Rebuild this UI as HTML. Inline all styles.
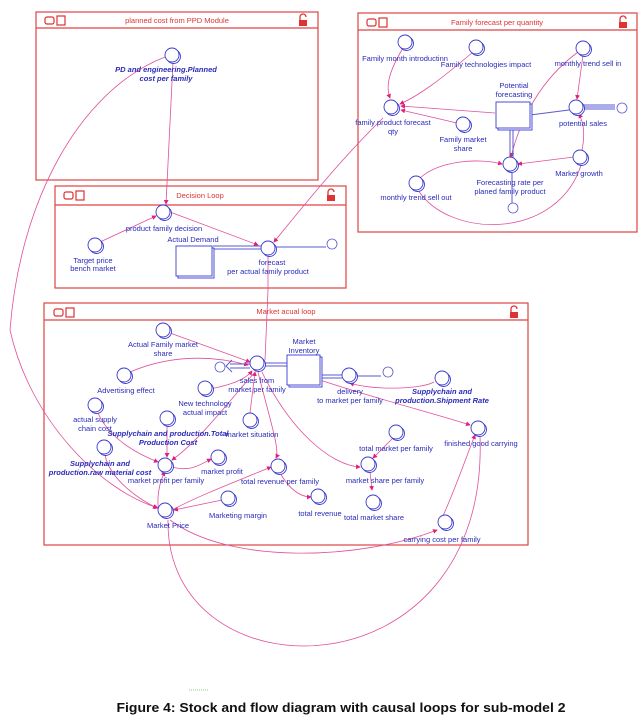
<!DOCTYPE html>
<html><head><meta charset="utf-8"><style>
html,body{margin:0;padding:0;background:#fff;}
svg{display:block;font-family:"Liberation Sans",Arial,sans-serif;}
.t{fill:#2a2ab8;font-size:7.5px;text-anchor:middle;}
.b{font-weight:bold;font-style:italic;}
.bx{fill:none;stroke:#dd4444;stroke-width:1.2;}
.h{fill:#dd3333;font-size:7.5px;text-anchor:middle;}
.n{fill:#fff;stroke:#3a3ad0;stroke-width:0.9;}
.l{fill:none;stroke:#e0509a;stroke-width:0.8;}
.f{fill:none;stroke:#5a5ad0;stroke-width:1;}
</style></head><body>
<svg width="642" height="724" viewBox="0 0 642 724" xmlns="http://www.w3.org/2000/svg">
<defs>
<marker id="a" markerWidth="6" markerHeight="6" refX="5" refY="3" orient="auto"><path d="M0,0L6,3L0,6z" fill="#e0207a"/></marker>
<g id="ic"><rect x="0" y="0" width="9" height="7" rx="2" fill="none" stroke="#d33" stroke-width="1.2"/><rect x="12" y="-1" width="8" height="9" fill="none" stroke="#d33" stroke-width="1.2"/></g>
<g id="lk"><path d="M-3,0 v-3 a3,3 0 0 1 6,0" fill="none" stroke="#d33" stroke-width="1.3"/><rect x="-4" y="0" width="8" height="6" fill="#d33"/></g>
<g id="nd"><circle cx="1.5" cy="1.5" r="7" class="n"/><circle cx="0" cy="0" r="7" class="n"/></g>
</defs>

<!-- boxes -->
<rect x="36" y="12" width="282" height="168" class="bx"/><line x1="36" y1="28" x2="318" y2="28" class="bx"/>
<use href="#ic" x="45" y="17"/><text x="177" y="23" class="h">planned cost from PPD Module</text><use href="#lk" x="303" y="20"/>

<rect x="55" y="186" width="291" height="102" class="bx"/><line x1="55" y1="205" x2="346" y2="205" class="bx"/>
<use href="#ic" x="64" y="192"/><text x="200" y="198" class="h">Decision Loop</text><use href="#lk" x="331" y="195"/>

<rect x="358" y="13" width="279" height="219" class="bx"/><line x1="358" y1="30" x2="637" y2="30" class="bx"/>
<use href="#ic" x="367" y="19"/><text x="497" y="25" class="h">Family forecast per quantity</text><use href="#lk" x="623" y="22"/>

<rect x="44" y="303" width="484" height="242" class="bx"/><line x1="44" y1="320" x2="528" y2="320" class="bx"/>
<use href="#ic" x="54" y="309"/><text x="286" y="314" class="h">Market acual loop</text><use href="#lk" x="514" y="312"/>

<!-- links -->
<path d="M165,57 C80,90 20,200 10,330 C30,420 100,490 158,508" class="l" marker-end="url(#a)"/>
<path d="M173,62 L166,204" class="l" marker-end="url(#a)"/>
<path d="M170,212 L258,245" class="l" marker-end="url(#a)"/>
<path d="M100,242 L156,216" class="l" marker-end="url(#a)"/>
<path d="M268,255 L268,290 L265,360" class="l"/>
<path d="M383,118 C340,160 300,210 274,242" class="l" marker-end="url(#a)"/>
<path d="M403,48 C390,70 385,85 390,98" class="l" marker-end="url(#a)"/>
<path d="M473,52 C440,80 420,95 400,104" class="l" marker-end="url(#a)"/>
<path d="M495,113 L401,106" class="l" marker-end="url(#a)"/>
<path d="M457,123 L401,110" class="l" marker-end="url(#a)"/>
<path d="M578,52 C540,80 520,120 511,157" class="l" marker-end="url(#a)"/>
<path d="M583,55 L577,99" class="l" marker-end="url(#a)"/>
<path d="M574,157 L518,164" class="l" marker-end="url(#a)"/>
<path d="M582,150 C586,130 582,120 579,114" class="l" marker-end="url(#a)"/>
<path d="M420,178 C440,160 480,158 502,164" class="l" marker-end="url(#a)"/>
<path d="M418,190 C450,240 560,240 582,162" class="l"/>
<path d="M530,115 L569,110" class="f"/><path d="M583,107 L615,107" class="f"/>
<path d="M510,128 L510,157 M513,128 L513,157" class="f"/>
<path d="M512,171 L512,203" class="f"/>
<!-- decision flows -->
<path d="M213,246 L261,246 M213,249 L261,249" class="f"/><path d="M275,247 L326,247" class="f"/>
<!-- market links -->
<path d="M170,333 L250,362" class="l" marker-end="url(#a)"/>
<path d="M130,372 C170,355 210,355 248,365" class="l" marker-end="url(#a)"/>
<path d="M210,389 C230,385 245,380 252,371" class="l" marker-end="url(#a)"/>
<path d="M250,413 L255,372" class="l" marker-end="url(#a)"/>
<path d="M258,372 C270,420 280,450 276,458" class="l" marker-end="url(#a)"/>
<path d="M262,372 C290,430 330,465 360,467" class="l" marker-end="url(#a)"/>
<path d="M255,372 C230,400 200,440 172,460" class="l" marker-end="url(#a)"/>
<path d="M98,413 C110,440 140,455 158,462" class="l" marker-end="url(#a)"/>
<path d="M167,425 L167,457" class="l" marker-end="url(#a)"/>
<path d="M105,455 C110,480 140,500 157,508" class="l" marker-end="url(#a)"/>
<path d="M172,467 C190,472 200,465 211,459" class="l" marker-end="url(#a)"/>
<path d="M172,510 C200,495 240,480 271,467" class="l" marker-end="url(#a)"/>
<path d="M222,500 L174,510" class="l" marker-end="url(#a)"/>
<path d="M160,515 C155,500 160,480 165,472" class="l" marker-end="url(#a)"/>
<path d="M280,473 C290,490 300,497 311,497" class="l" marker-end="url(#a)"/>
<path d="M393,438 L373,458" class="l" marker-end="url(#a)"/>
<path d="M370,472 L372,490" class="l" marker-end="url(#a)"/>
<path d="M434,382 C420,390 370,390 350,383" class="l" marker-end="url(#a)"/>
<path d="M320,380 C380,400 440,415 470,425" class="l" marker-end="url(#a)"/>
<path d="M442,518 C455,490 465,460 475,435" class="l" marker-end="url(#a)"/>
<path d="M170,520 C230,565 360,560 437,530" class="l" marker-end="url(#a)"/>
<path d="M168,520 C165,700 490,700 480,436" class="l"/>
<path d="M40,420 C60,460 90,490 30,470" class="l" style="display:none"/>
<path d="M287,363 L264,363 M287,366 L264,366" class="f"/>
<path d="M250,364 L230,364 M250,368 L230,368" class="f"/><path d="M232,360 L226,366 L232,372" class="f"/>
<path d="M320,375 L342,375 M320,378 L342,378" class="f"/><path d="M356,376 L381,376" class="f"/>
<path d="M583,105 L615,105 M583,109 L615,109" class="f"/>

<!-- stocks -->
<rect x="178" y="248" width="36" height="30" class="n"/><rect x="176" y="246" width="36" height="30" class="n"/>
<rect x="498" y="104" width="34" height="26" class="n"/><rect x="496" y="102" width="34" height="26" class="n"/>
<rect x="289" y="357" width="33" height="30" class="n"/><rect x="287" y="355" width="33" height="30" class="n"/>

<!-- clouds -->
<g fill="#fff" stroke="#5a5ad0" stroke-width="0.8">
<circle cx="332" cy="244" r="5"/><circle cx="622" cy="108" r="5"/><circle cx="513" cy="208" r="5"/>
<circle cx="220" cy="367" r="5"/><circle cx="388" cy="372" r="5"/></g>

<!-- nodes -->
<use href="#nd" x="172" y="55"/><use href="#nd" x="163" y="212"/><use href="#nd" x="95" y="245"/>
<use href="#nd" x="268" y="248"/><use href="#nd" x="405" y="42"/><use href="#nd" x="476" y="47"/>
<use href="#nd" x="391" y="107"/><use href="#nd" x="463" y="124"/><use href="#nd" x="576" y="107"/>
<use href="#nd" x="583" y="48"/><use href="#nd" x="580" y="157"/><use href="#nd" x="510" y="164"/>
<use href="#nd" x="416" y="183"/><use href="#nd" x="163" y="330"/><use href="#nd" x="257" y="363"/>
<use href="#nd" x="349" y="375"/><use href="#nd" x="442" y="378"/><use href="#nd" x="124" y="375"/>
<use href="#nd" x="205" y="388"/><use href="#nd" x="250" y="420"/><use href="#nd" x="95" y="405"/>
<use href="#nd" x="167" y="418"/><use href="#nd" x="104" y="447"/><use href="#nd" x="165" y="465"/>
<use href="#nd" x="218" y="457"/><use href="#nd" x="278" y="466"/><use href="#nd" x="318" y="496"/>
<use href="#nd" x="165" y="510"/><use href="#nd" x="228" y="498"/><use href="#nd" x="396" y="432"/>
<use href="#nd" x="368" y="464"/><use href="#nd" x="373" y="502"/><use href="#nd" x="478" y="428"/>
<use href="#nd" x="445" y="522"/>

<!-- labels -->
<text class="t b" x="166" y="72">PD and engineering.Planned</text><text class="t b" x="166" y="81">cost per family</text>
<text class="t" x="164" y="231">product family decision</text>
<text class="t" x="93" y="263">Target price</text><text class="t" x="93" y="271">bench market</text>
<text class="t" x="193" y="242">Actual Demand</text>
<text class="t" x="272" y="265">forecast</text><text class="t" x="268" y="274">per actual family product</text>
<text class="t" x="405" y="61">Family month introductinn</text>
<text class="t" x="486" y="67">Family technologies impact</text>
<text class="t" x="393" y="125">family product forecast</text><text class="t" x="393" y="134">qty</text>
<text class="t" x="463" y="142">Family market</text><text class="t" x="463" y="151">share</text>
<text class="t" x="514" y="88">Potential</text><text class="t" x="514" y="97">forecasting</text>
<text class="t" x="583" y="126">potential sales</text>
<text class="t" x="588" y="66">monthly trend sell in</text>
<text class="t" x="579" y="176">Market growth</text>
<text class="t" x="510" y="185">Forecasting rate per</text><text class="t" x="510" y="194">planed family product</text>
<text class="t" x="416" y="200">monthly trend sell out</text>
<text class="t" x="163" y="347">Actual Family market</text><text class="t" x="163" y="356">share</text>
<text class="t" x="257" y="383">sales from</text><text class="t" x="257" y="392">market per family</text>
<text class="t" x="304" y="344">Market</text><text class="t" x="304" y="353">Inventory</text>
<text class="t" x="350" y="394">delivery</text><text class="t" x="350" y="403">to market per family</text>
<text class="t b" x="442" y="394">Supplychain and</text><text class="t b" x="442" y="403">production.Shipment Rate</text>
<text class="t" x="126" y="393">Advertising effect</text>
<text class="t" x="205" y="406">New technology</text><text class="t" x="205" y="415">actual impact</text>
<text class="t" x="252" y="437">market situation</text>
<text class="t" x="95" y="422">actual supply</text><text class="t" x="95" y="431">chain cost</text>
<text class="t b" x="168" y="436">Supplychain and production.Total</text><text class="t b" x="168" y="445">Production Cost</text>
<text class="t b" x="100" y="466">Supplychain and</text><text class="t b" x="100" y="475">production.raw material cost</text>
<text class="t" x="166" y="483">market profit per family</text>
<text class="t" x="222" y="474">market profit</text>
<text class="t" x="280" y="484">total revenue per family</text>
<text class="t" x="320" y="516">total revenue</text>
<text class="t" x="168" y="528">Market Price</text>
<text class="t" x="238" y="518">Marketing margin</text>
<text class="t" x="396" y="451">total market per family</text>
<text class="t" x="385" y="483">market share per family</text>
<text class="t" x="374" y="520">total market share</text>
<text class="t" x="481" y="446">finished good carrying</text>
<text class="t" x="442" y="542">carrying cost per family</text>

<line x1="189" y1="690" x2="209" y2="690" stroke="#8c8" stroke-width="1" stroke-dasharray="1,1"/>
<text x="341" y="712" text-anchor="middle" font-size="13" font-weight="bold" fill="#111" textLength="449" lengthAdjust="spacingAndGlyphs">Figure 4: Stock and flow diagram with causal loops for sub-model 2</text>
</svg>
</body></html>
